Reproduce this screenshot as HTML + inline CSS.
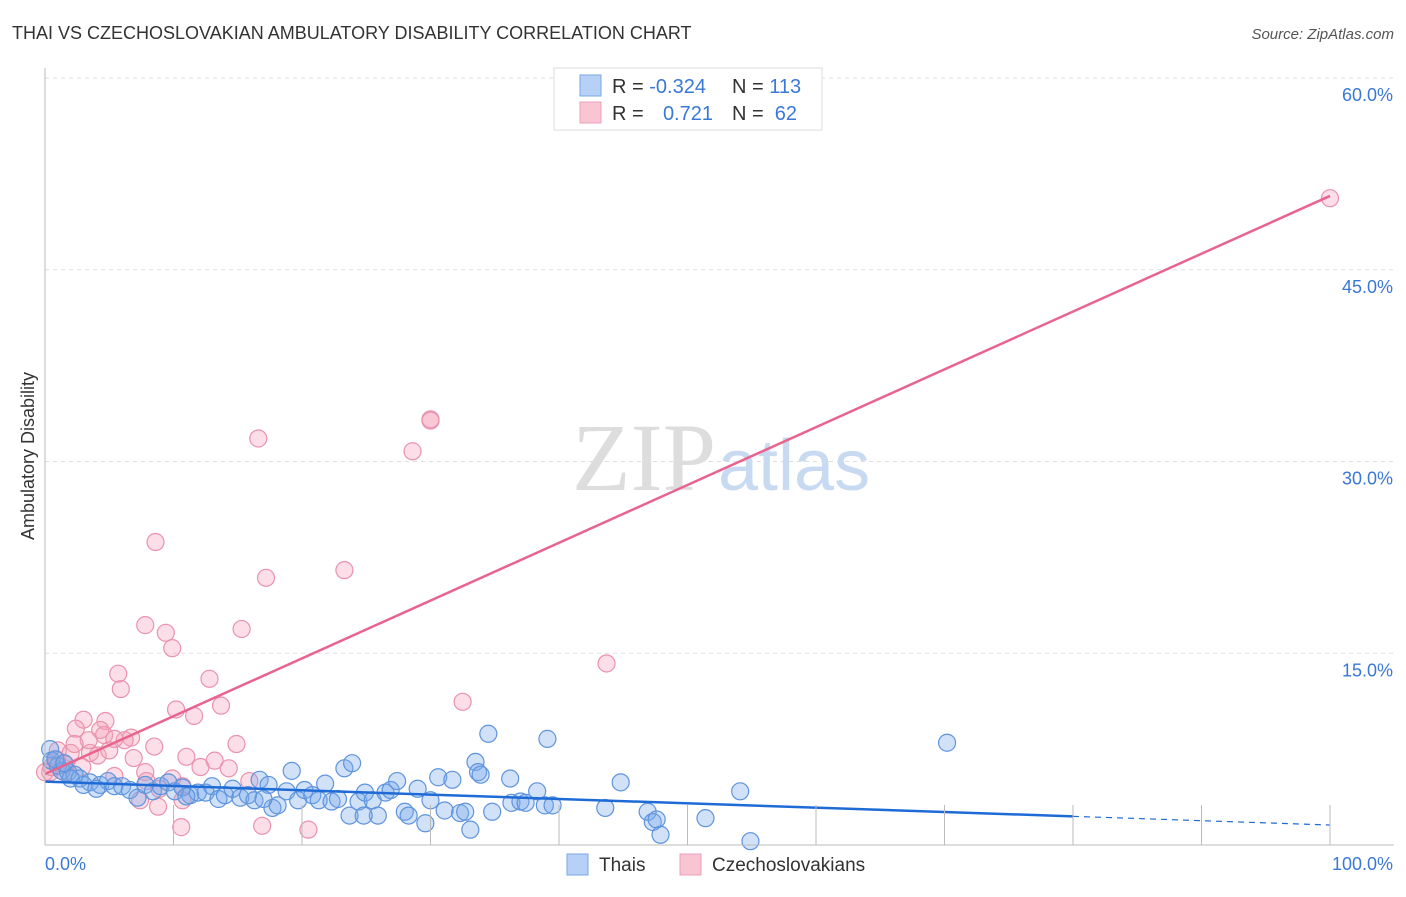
<!DOCTYPE html>
<html><head><meta charset="utf-8">
<style>
body{margin:0;background:#fff;font-family:"Liberation Sans",sans-serif;}
</style></head>
<body>
<svg id="chart" width="1406" height="892" viewBox="0 0 1406 892" xmlns="http://www.w3.org/2000/svg" font-family="Liberation Sans, sans-serif">
<text x="12" y="39" font-size="18" fill="#333">THAI VS CZECHOSLOVAKIAN AMBULATORY DISABILITY CORRELATION CHART</text>
<text x="1394" y="39" font-size="15" fill="#555" font-style="italic" text-anchor="end">Source: ZipAtlas.com</text>
<g id="grid"></g>
<text x="716" y="490" font-size="96" fill="#ddd" style="font-family:'Liberation Serif',serif" text-anchor="end">ZIP</text>
<text x="718" y="490" font-size="72" fill="#c8daf2">atlas</text>
<g id="pts"></g>
<g id="lines"></g>
<g id="axes"></g>
<text transform="translate(34,456) rotate(-90)" font-size="18" fill="#333" text-anchor="middle">Ambulatory Disability</text>
<text x="45" y="870" font-size="18" fill="#3a78d8">0.0%</text>
<text x="1393" y="870" font-size="18" fill="#3a78d8" text-anchor="end">100.0%</text>
<g>
<rect x="554" y="68" width="268" height="62" fill="#fff" stroke="#ddd"/>
<rect x="580" y="75" width="21" height="21" fill="#b6d1f5" stroke="#7aa6e6"/>
<rect x="580" y="102" width="21" height="21" fill="#f9c5d3" stroke="#eca0b8"/>
<text x="612" y="93" font-size="20" fill="#333">R = <tspan fill="#3a78d8">-0.324</tspan></text>
<text x="732" y="93" font-size="20" fill="#333">N = <tspan fill="#3a78d8">113</tspan></text>
<text x="612" y="120" font-size="20" fill="#333">R = </text>
<text x="713" y="120" font-size="20" fill="#3a78d8" text-anchor="end">0.721</text>
<text x="732" y="120" font-size="20" fill="#333">N = </text>
<text x="797" y="120" font-size="20" fill="#3a78d8" text-anchor="end">62</text>
</g>
<g>
<rect x="567" y="854" width="21" height="21" fill="#b6d1f5" stroke="#7aa6e6"/>
<text x="599" y="871" font-size="19" fill="#333">Thais</text>
</g>
<g>
<rect x="680" y="854" width="21" height="21" fill="#f9c5d3" stroke="#eca0b8"/>
<text x="712" y="871" font-size="19" fill="#333">Czechoslovakians</text>
</g>
</svg>
<script>
const yTicks=[15,30,45,60];
const yTickLabels=["15.0%","30.0%","45.0%","60.0%"];
const xTicks=[10,20,30,40,50,60,70,80,90,100];
const thaiX=[0.4,0.5,1,1.3,1.8,2.3,2.7,3.5,4.3,4.9,5.4,6,6.6,7.2,7.8,8.4,9,9.6,10.1,10.7,11.3,11.9,12.5,13,13.5,14,14.6,15.2,15.8,16.3,16.7,17.4,17.7,18.1,18.8,19.2,19.7,20.2,20.8,21.3,21.8,22.3,22.8,23.3,23.9,23.7,24.4,24.9,25.5,25.9,26.5,26.9,27.4,28,28.3,29,29.6,30,30.6,31.1,31.7,32.3,32.7,33.1,33.5,33.7,33.9,34.5,34.8,36.2,36.3,37,37.4,39.1,38.9,39.5,38.3,43.6,44.8,46.9,47.3,47.6,47.9,51.4,54.1,54.9,70.2,0.8,1.5,2,3,4,24.8,11,17];
const thaiY=[7.5,6.6,6.2,5.8,5.7,5.5,5.2,4.9,4.7,5,4.6,4.6,4.3,3.7,4.7,4.2,4.6,4.9,4.2,4.5,3.9,4.1,4.1,4.6,3.6,3.9,4.4,3.7,3.9,3.5,5.1,4.7,2.9,3.1,4.2,5.8,3.5,4.3,3.9,3.5,4.8,3.4,3.6,6,6.4,2.3,3.4,4.1,3.5,2.3,4.1,4.3,5,2.6,2.3,4.4,1.7,3.5,5.3,2.7,5.1,2.5,2.6,1.2,6.5,5.7,5.5,8.7,2.6,5.2,3.3,3.4,3.3,8.3,3.1,3.1,4.2,2.9,4.9,2.6,1.8,2,0.8,2.1,4.2,0.3,8,6.7,6.4,5.2,4.7,4.4,2.3,3.8,3.6];
const czX=[100,16.6,30,30.0,28.6,8.6,17.2,23.3,7.8,15.3,9.4,9.9,43.7,5.7,5.9,12.8,32.5,10.2,13.7,11.6,3,4.7,2.4,4.3,6.7,6.2,8.5,14.9,11,1,2,3.5,4.1,5,6.9,1.6,0.4,2.9,7.8,12.1,14.3,5.4,7.9,9.9,8.9,10.7,0.9,1.5,7.4,8.8,10.7,16.9,20.5,10.6,0,0.5,3.4,4.6,5.4,2.3,13.2,15.9];
const czY=[50.6,31.8,33.3,33.2,30.8,23.7,20.9,21.5,17.2,16.9,16.6,15.4,14.2,13.4,12.2,13,11.2,10.6,10.9,10.1,9.8,9.7,9.1,9,8.4,8.2,7.7,7.9,6.9,7.4,7.2,7.2,7,7.4,6.8,6.3,5.7,6.1,5.7,6.1,6,5.4,5,5.2,4.4,4.6,6.7,5.7,3.5,3,3.5,1.5,1.2,1.4,5.7,6.1,8.2,8.6,8.3,7.9,6.6,5];
</script>
<script>
const NS="http://www.w3.org/2000/svg";
const X0=45,X1=1330,Y0=845,Y60=78;
function sx(v){return X0+(X1-X0)*v/100;}
function sy(v){return Y0-(Y0-Y60)*v/60;}
function mk(tag,attrs,parent){const e=document.createElementNS(NS,tag);for(const k in attrs)e.setAttribute(k,attrs[k]);parent.appendChild(e);return e;}
const grid=document.getElementById('grid'),axes=document.getElementById('axes'),pts=document.getElementById('pts'),lines=document.getElementById('lines');
yTicks.forEach((t,i)=>{
  const l=mk('line',{x1:X0,x2:1394,y1:sy(t),y2:sy(t),stroke:'#ddd','stroke-dasharray':'4,4'},grid);
  
  
  const tx=mk('text',{x:1393,y:sy(t)+23,'font-size':18,fill:'#3a78d8','text-anchor':'end'},axes);
  tx.textContent=yTickLabels[i];
  
  
});
const ya=mk('line',{x1:X0,x2:X0,y1:68,y2:Y0,stroke:'#bbb'},axes);


const xa=mk('line',{x1:X0,x2:1394,y1:Y0,y2:Y0,stroke:'#bbb'},axes);


xTicks.forEach(t=>{
  const l=mk('line',{x1:sx(t),x2:sx(t),y1:Y0-40,y2:Y0,stroke:'#bbb'},axes);
  
  
});
function drawPts(xs,ys,fill,stroke,name){
  xs.forEach((v,i)=>{
    if(ys[i]===undefined)return;
    const c=mk('circle',{cx:sx(v),cy:sy(ys[i]),r:8.5,fill:fill,stroke:stroke,'stroke-width':1.2},pts);
    
    
  });
}
drawPts(czX,czY,'rgba(244,160,187,0.35)','#eb92ae','czechoslovakian-point');
drawPts(thaiX,thaiY,'rgba(120,170,235,0.35)','#5f94dd','thai-point');
function fit(xs,ys){const n=Math.min(xs.length,ys.length);let mx=0,my=0;for(let i=0;i<n;i++){mx+=xs[i];my+=ys[i];}mx/=n;my/=n;let a=0,b=0;for(let i=0;i<n;i++){a+=(xs[i]-mx)*(ys[i]-my);b+=(xs[i]-mx)**2;}const s=a/b;return [my-s*mx,s];}
const [ta,tb]=fit(thaiX,thaiY);
const l1=mk('line',{x1:sx(0),y1:sy(ta),x2:sx(80),y2:sy(ta+tb*80),stroke:'#1f6bd6','stroke-width':2.5},lines);


const l2=mk('line',{x1:sx(80),y1:sy(ta+tb*80),x2:sx(100),y2:sy(ta+tb*100),stroke:'#1f6bd6','stroke-width':1.2,'stroke-dasharray':'6,5'},lines);


const [ca,cb]=fit(czX,czY);
const l3=mk('line',{x1:sx(0),y1:sy(ca),x2:sx(100),y2:sy(ca+cb*100),stroke:'#e8648f','stroke-width':2.5},lines);


</script>
</body></html>
